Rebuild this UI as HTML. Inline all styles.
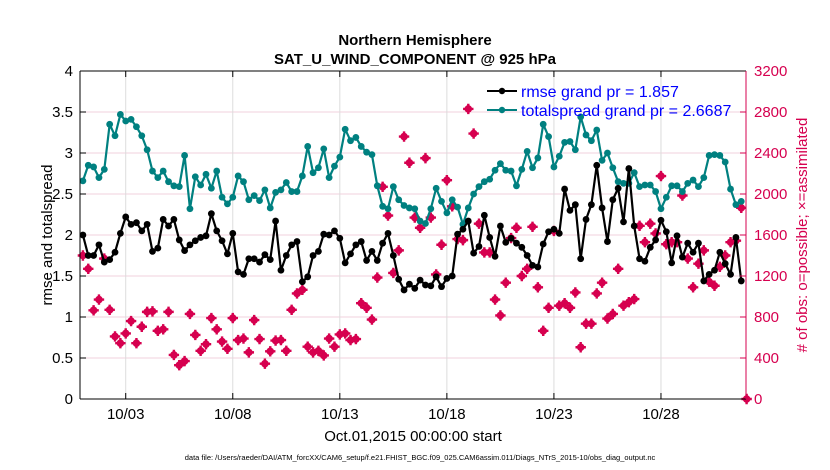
<!DOCTYPE html>
<html><head><meta charset="utf-8"><style>
body{margin:0;background:#fff;}
svg{display:block;font-family:"Liberation Sans",Arial,sans-serif;}
</style></head><body>
<svg id="chart" width="830" height="470" viewBox="0 0 830 470" xmlns="http://www.w3.org/2000/svg">
<rect width="830" height="470" fill="#fff"/>
<g id="grid"></g>
<g id="series"></g>
<g id="axes"></g>
<text x="415" y="45" text-anchor="middle" font-size="15" font-weight="bold">Northern Hemisphere</text>
<text x="415" y="64" text-anchor="middle" font-size="15" font-weight="bold">SAT_U_WIND_COMPONENT @ 925 hPa</text>
<text transform="translate(52,235) rotate(-90)" text-anchor="middle" font-size="15">rmse and totalspread</text>
<text transform="translate(807,235) rotate(-90)" text-anchor="middle" font-size="15" fill="#d6004f"># of obs: o=possible; ×=assimilated</text>
<text x="413" y="441" text-anchor="middle" font-size="15">Oct.01,2015 00:00:00 start</text>
<text x="420" y="460" text-anchor="middle" font-size="7.5">data file: /Users/raeder/DAI/ATM_forcXX/CAM6_setup/f.e21.FHIST_BGC.f09_025.CAM6assim.011/Diags_NTrS_2015-10/obs_diag_output.nc</text>
<g>
<line x1="487" y1="91" x2="517" y2="91" stroke="#000" stroke-width="2"/>
<circle cx="502" cy="91" r="3.2" fill="#000"/>
<text x="521" y="97" font-size="16" fill="#0000ff">rmse grand pr = 1.857</text>
<line x1="487" y1="110" x2="517" y2="110" stroke="#008080" stroke-width="2"/>
<circle cx="502" cy="110" r="3.2" fill="#008080"/>
<text x="521" y="116" font-size="16" fill="#0000ff">totalspread grand pr = 2.6687</text>
</g>
</svg>
<script>
const rmse=[2.0,1.75,1.75,1.88,1.67,1.70,1.79,2.02,2.22,2.13,2.15,2.05,2.13,1.80,1.84,2.19,2.11,2.19,1.94,1.81,1.88,1.93,1.97,1.99,2.26,2.05,1.93,1.77,2.02,1.55,1.52,1.71,1.71,1.67,1.76,1.70,2.17,1.57,1.75,1.88,1.92,1.43,1.49,1.75,1.80,
2.01,2.0,2.05,1.96,1.66,1.77,1.88,1.92,1.69,1.80,1.69,1.90,2.02,1.75,1.46,1.33,1.40,1.35,1.45,1.39,1.38,1.49,1.37,1.47,1.50,2.01,2.07,2.17,1.78,1.86,2.24,1.97,1.74,2.11,1.91,1.96,1.90,1.85,1.75,1.63,1.61,1.89,2.04,2.07,2.02,
2.56,2.30,2.37,1.71,2.19,2.37,2.85,2.33,1.92,2.43,2.57,2.16,2.81,2.11,1.71,1.68,1.85,1.94,2.18,2.04,1.66,1.99,1.73,1.90,1.79,1.90,1.44,1.52,1.57,1.79,1.65,1.52,1.97,1.44];
const spread=[2.66,2.85,2.83,2.70,2.80,3.35,3.21,3.47,3.39,3.41,3.32,3.21,3.04,2.78,2.70,2.78,2.65,2.60,2.59,2.97,2.32,2.71,2.61,2.74,2.57,2.78,2.46,2.38,2.46,2.72,2.65,2.43,2.48,2.42,2.55,2.33,2.52,2.55,2.64,2.53,2.53,2.72,3.08,2.76,2.82,
3.05,2.70,2.84,2.95,3.29,3.15,3.19,3.08,3.01,2.98,2.60,2.35,2.32,2.59,2.43,2.36,2.33,2.32,2.17,2.14,2.32,2.57,2.41,2.27,2.43,2.34,2.13,2.33,2.50,2.59,2.65,2.68,2.79,2.87,2.79,2.78,2.60,2.80,3.02,2.82,2.94,3.35,3.20,2.83,2.96,
3.13,3.14,3.04,3.44,3.22,3.15,3.28,2.91,3.00,2.82,2.65,2.63,2.63,2.76,2.59,2.61,2.61,2.53,2.32,2.46,2.60,2.60,2.53,2.63,2.67,2.59,2.70,2.97,2.98,2.97,2.89,2.56,2.37,2.41];
const obsCount=[1400,1270,865,970,1370,870,610,545,640,760,545,705,850,855,665,680,850,430,330,370,830,625,470,535,790,680,560,490,790,575,590,455,770,585,345,465,570,575,470,870,1030,1065,510,455,470,
425,590,510,630,640,575,585,935,890,775,1185,2070,1790,1230,1450,2560,2305,1770,1670,2350,1770,1215,1505,2135,1880,1560,1550,2830,2590,1710,1430,1430,970,815,1135,1570,1670,1200,1270,1680,1090,665,890,1640,910,
935,890,1040,505,735,735,1030,1135,785,830,1270,910,945,975,1690,1530,1710,1615,2175,1510,1530,1530,1985,1370,1090,1320,1450,1145,1105,1290,1400,1530,1545,1865,0];
const leftTicks=[0,0.5,1,1.5,2,2.5,3,3.5,4];
const leftTickLabels=["0","0.5","1","1.5","2","2.5","3","3.5","4"];
const rightTicks=[0,400,800,1200,1600,2000,2400,2800,3200];
const dateTickDays=[2,7,12,17,22,27];
const dateTickLabels=["10/03","10/08","10/13","10/18","10/23","10/28"];

const L=80,R=746,T=71,B=399;
const xs=d=>82.9+d*21.41;
const yl=v=>B-v*(B-T)/4;
const yr=c=>B-c*(B-T)/3200;
const NS="http://www.w3.org/2000/svg";
function mk(tag,attrs,parent){const e=document.createElementNS(NS,tag);for(const k in attrs)e.setAttribute(k,attrs[k]);parent.appendChild(e);return e;}
const grid=document.getElementById('grid'),series=document.getElementById('series'),axes=document.getElementById('axes');

leftTicks.forEach((v,i)=>{
  if(v>0&&v<4){const g=mk('line',{x1:L,x2:R,y1:yl(v),y2:yl(v),stroke:'#f2d0dc','stroke-width':1},grid);
  
  }
  mk('line',{x1:L,x2:L+6,y1:yl(v),y2:yl(v),stroke:'#000'},axes);
  const t=mk('text',{x:L-7,y:yl(v)+5,'text-anchor':'end','font-size':15},axes);
  t.textContent=leftTickLabels[i];
  
  
});
rightTicks.forEach(c=>{
  mk('line',{x1:R-6,x2:R,y1:yr(c),y2:yr(c),stroke:'#d6004f'},axes);
  const t=mk('text',{x:R+8,y:yr(c)+5,'font-size':15,fill:'#d6004f'},axes);
  t.textContent=String(c);
  
  
});
dateTickDays.forEach((d,i)=>{
  const x=xs(d);
  const g=mk('line',{x1:x,x2:x,y1:T,y2:B,stroke:'#dcdcdc'},grid);
  
  
  mk('line',{x1:x,x2:x,y1:B,y2:B-6,stroke:'#000'},axes);
  mk('line',{x1:x,x2:x,y1:T,y2:T+6,stroke:'#000'},axes);
  const t=mk('text',{x:x,y:419,'text-anchor':'middle','font-size':15},axes);
  t.textContent=dateTickLabels[i];
  
  
});
mk('line',{x1:L,x2:R,y1:T,y2:T,stroke:'#000'},axes);
mk('line',{x1:L,x2:R,y1:B,y2:B,stroke:'#000'},axes);
mk('line',{x1:L,x2:L,y1:T,y2:B,stroke:'#000'},axes);
mk('line',{x1:R,x2:R,y1:T,y2:B,stroke:'#d6004f'},axes);

obsCount.forEach((c,i)=>{
  const x=xs(i/4),y=yr(c);
  const g=mk('g',{fill:'#d6004f',stroke:'#d6004f'},series);
  
  
  mk('circle',{cx:x,cy:y,r:3.8,stroke:'none'},g);
  mk('path',{d:`M${x-5.2},${y}H${x+5.2}M${x},${y-5.2}V${y+5.2}`,'stroke-width':2.4},g);
});
function line(arr,color,name){
  const p=mk('polyline',{points:arr.map((v,i)=>xs(i/4)+','+yl(v)).join(' '),fill:'none',stroke:color,'stroke-width':2.2,'stroke-linejoin':'round'},series);
  
  
  arr.forEach((v,i)=>{
    const c=mk('circle',{cx:xs(i/4),cy:yl(v),r:3.4,fill:color},series);
    
    
  });
}
line(spread,'#008080','totalspread');
line(rmse,'#000000','rmse');
</script>
</body></html>
